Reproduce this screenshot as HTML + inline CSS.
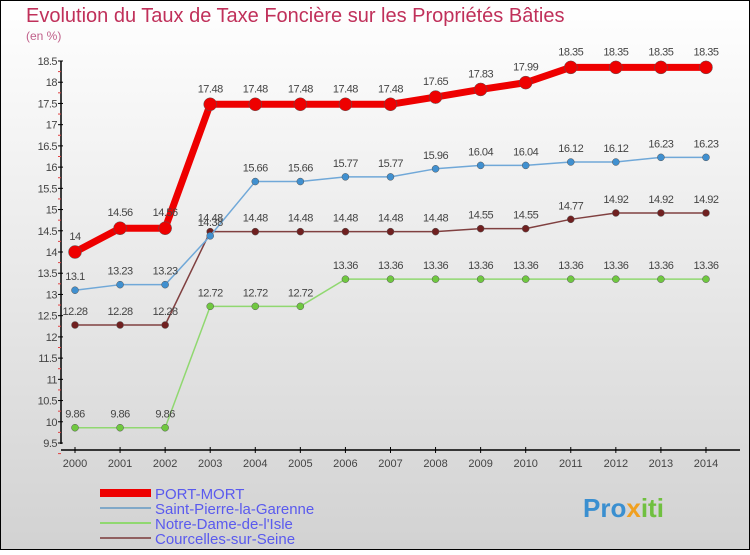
<!DOCTYPE html>
<html><head><meta charset="utf-8"><style>
body{margin:0}
#c{width:750px;height:550px;position:relative;font-family:"Liberation Sans",sans-serif}
</style></head><body>
<div id="c">
<svg id="s" width="750" height="550" xmlns="http://www.w3.org/2000/svg">
<defs><linearGradient id="bg" x1="0" y1="0" x2="0" y2="1"><stop offset="0" stop-color="#ffffff"/><stop offset="1" stop-color="#d2d2d2"/></linearGradient></defs>
<rect x="0.5" y="0.5" width="749" height="549" fill="url(#bg)" stroke="#000"/>
<text x="26" y="22" font-size="20" fill="#c0305a">Evolution du Taux de Taxe Foncière sur les Propriétés Bâties</text>
<text x="26" y="40" font-size="12" fill="#c0608a">(en %)</text>
<g id="axes"></g><g id="series"></g>
<g>
<rect x="100" y="489" width="51" height="8" fill="#e00"/>
<text x="155" y="499" font-size="15" fill="#5a5aee">PORT-MORT</text>
<rect x="100" y="507" width="51" height="2" fill="#80a8c8"/>
<text x="155" y="514" font-size="15" fill="#5a5aee">Saint-Pierre-la-Garenne</text>
<rect x="100" y="522" width="51" height="2" fill="#90d870"/>
<text x="155" y="529" font-size="15" fill="#5a5aee">Notre-Dame-de-l'Isle</text>
<rect x="100" y="537" width="51" height="2" fill="#906060"/>
<text x="155" y="544" font-size="15" fill="#5a5aee">Courcelles-sur-Seine</text>
</g>
<text x="583" y="517" font-size="26" font-weight="bold" fill="#3a8fd0">Pro<tspan fill="#f0a020">x</tspan><tspan fill="#70c040">iti</tspan></text>
</svg></div>
<script>
const years=[2000,2001,2002,2003,2004,2005,2006,2007,2008,2009,2010,2011,2012,2013,2014];
const portMort=[14,14.56,14.56,17.48,17.48,17.48,17.48,17.48,17.65,17.83,17.99,18.35,18.35,18.35,18.35];
const saintPierre=[13.1,13.23,13.23,14.38,15.66,15.66,15.77,15.77,15.96,16.04,16.04,16.12,16.12,16.23,16.23];
const notreDame=[9.86,9.86,9.86,12.72,12.72,12.72,13.36,13.36,13.36,13.36,13.36,13.36,13.36,13.36,13.36];
const courcelles=[12.28,12.28,12.28,14.48,14.48,14.48,14.48,14.48,14.48,14.55,14.55,14.77,14.92,14.92,14.92];
const yTicks=[9.5,10,10.5,11,11.5,12,12.5,13,13.5,14,14.5,15,15.5,16,16.5,17,17.5,18,18.5];
const NS="http://www.w3.org/2000/svg";
const X=i=>75+i*45.07, Y=v=>443-(v-9.5)*(382/9);
function mk(t,a,p,txt){const e=document.createElementNS(NS,t);for(const k in a)e.setAttribute(k,a[k]);if(txt!==undefined)e.textContent=txt;p.appendChild(e);return e;}
const ax=document.getElementById('axes'),sr=document.getElementById('series');
let e=mk('line',{x1:61,y1:61,x2:61,y2:444,stroke:'#000','stroke-width':1.5},ax);

e=mk('line',{x1:61,y1:450,x2:740,y2:450,stroke:'#000','stroke-width':1.5},ax);

yTicks.forEach((v,i)=>{const y=Y(v);
 mk('line',{x1:58,y1:y,x2:63,y2:y,stroke:'#000'},ax);
 mk('line',{x1:58,y1:y+10.6,x2:61,y2:y+10.6,stroke:'#e04040'},ax);
 const t=mk('text',{x:57,y:y+4,'font-size':11,'text-anchor':'end',fill:'#444','letter-spacing':'-0.5'},ax,String(v));
 });
years.forEach((yr,i)=>{const x=X(i);
 mk('line',{x1:x,y1:447,x2:x,y2:453,stroke:'#000'},ax);
 const t=mk('text',{x:x,y:467,'font-size':11,'text-anchor':'middle',fill:'#444'},ax,String(yr));
 });
function series(d,name,col,w,r,dot){
 const g=mk('g',{},sr);
 const pl=mk('polyline',{points:d.map((v,i)=>X(i)+','+Y(v)).join(' '),fill:'none',stroke:col,'stroke-width':w,'stroke-linejoin':'round'},g);
 
 d.forEach((v,i)=>{const c=mk('circle',{cx:X(i),cy:Y(v),r:r,fill:dot,stroke:'#555','stroke-width':0.5},g);
  
  const t=mk('text',{x:X(i),y:Y(v)-10-(r>4?2:0),'font-size':11,'text-anchor':'middle',fill:'#444','letter-spacing':'-0.5'},g,String(v));
  });
}
series(notreDame,'notre-dame','#90d870',1.5,3.5,'#70c840');
series(courcelles,'courcelles','#804040',1.5,3.5,'#702020');
series(saintPierre,'saint-pierre','#70a8d8',1.5,3.5,'#4090d0');
series(portMort,'port-mort','#ee0000',7,6.5,'#ee0000');
</script></body></html>
